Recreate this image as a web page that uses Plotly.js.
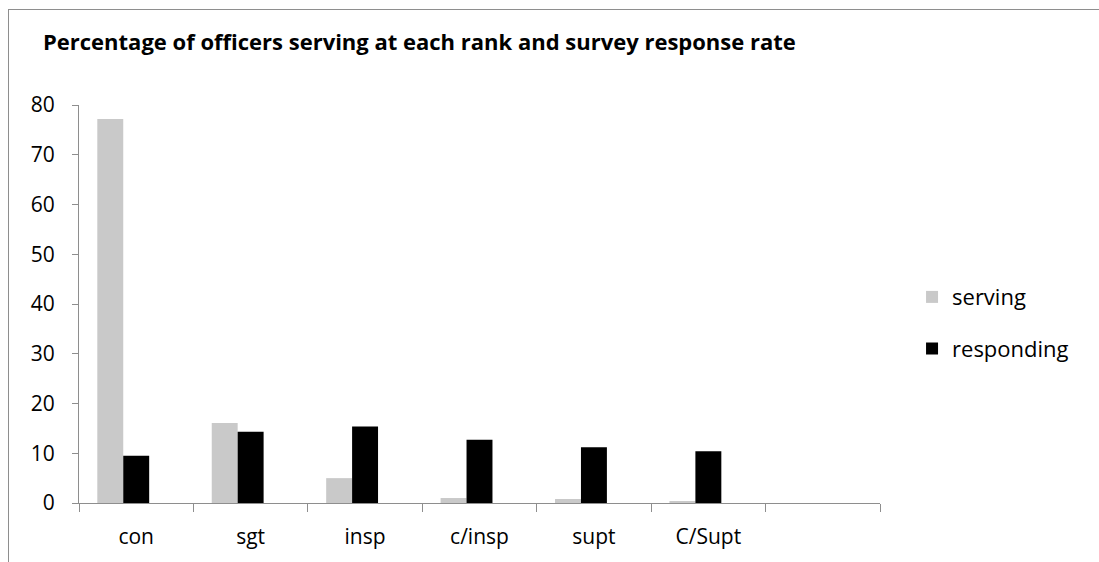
<!DOCTYPE html>
<html>
<head>
<meta charset="utf-8">
<script src="https://cdn.plot.ly/plotly-3.0.1.min.js"></script>
<style>
  html, body { margin: 0; padding: 0; overflow: hidden; background: #fff; }
  #chart { position: absolute; left: 0; top: 0; width: 1099px; height: 562px; }
  #frame { position: absolute; left: 8px; top: 9px; width: 3000px; height: 3000px;
           border: 1px solid #8e8e8e; pointer-events: none; }
</style>
</head>
<body>
<div id="chart"></div>
<div id="frame"></div>
<script>
const ranks = ["con", "sgt", "insp", "c/insp", "supt", "C/Supt"];
const emptyRank = " ";
const serving = [77.2, 16.1, 5.0, 1.0, 0.8, 0.4];
const responding = [9.5, 14.3, 15.4, 12.7, 11.2, 10.4];
const titleText = "Percentage of officers serving at each rank and survey response rate";
const yTicks = [0, 10, 20, 30, 40, 50, 60, 70, 80];

const allRanks = ranks.concat([emptyRank]);
const FONT = "'Open Sans', 'DejaVu Sans', sans-serif";

const traces = [
  { type: "bar", name: "serving", x: ranks, y: serving,
    marker: { color: "#c9c9c9" }, legendgroup: "a" },
  { type: "bar", name: "responding", x: ranks, y: responding,
    marker: { color: "#000000" }, legendgroup: "b" },
  { type: "bar", name: "", x: allRanks, y: allRanks.map(() => null),
    showlegend: false, hoverinfo: "skip", marker: { color: "rgba(0,0,0,0)" } }
];

const layout = {
  width: 1099, height: 562,
  margin: { l: 79, r: 219, t: 105, b: 59, pad: 0 },
  paper_bgcolor: "#ffffff", plot_bgcolor: "#ffffff",
  font: { family: FONT, color: "#000", size: 21 },
  title: { text: "<b>" + titleText + "</b>", font: { family: FONT, size: 22, color: "#000" },
           x: 43 / 1099, xanchor: "left", xref: "container",
           y: 1 - 42 / 562, yanchor: "middle", yref: "container" },
  barmode: "group", bargap: 0.32, bargroupgap: 0,
  xaxis: {
    type: "category", categoryorder: "array", categoryarray: allRanks,
    range: [-0.5, 6.5], tickson: "boundaries",
    showline: true, linecolor: "#8e8e8e", linewidth: 1,
    ticks: "outside", ticklen: 8, tickcolor: "#8e8e8e", tickwidth: 1,
    showgrid: false, zeroline: false, fixedrange: true,
    tickfont: { family: FONT, size: 21, color: "#000" }, ticklabelstandoff: 15
  },
  yaxis: {
    range: [0, 80], tickvals: yTicks, ticktext: yTicks.map(String),
    showline: true, linecolor: "#8e8e8e", linewidth: 1,
    ticks: "outside", ticklen: 6, tickcolor: "#8e8e8e", tickwidth: 1,
    showgrid: false, zeroline: false, fixedrange: true,
    tickfont: { family: FONT, size: 21, color: "#000" }, ticklabelstandoff: 13
  },
  showlegend: true,
  legend: {
    x: 1.04, xanchor: "left", y: 0.452, yanchor: "middle",
    font: { family: FONT, size: 22, color: "#000" },
    traceorder: "grouped", tracegroupgap: 20,
    bgcolor: "rgba(0,0,0,0)", borderwidth: 0
  }
};

Plotly.newPlot("chart", traces, layout, { displayModeBar: false, staticPlot: true });
</script>
</body>
</html>
